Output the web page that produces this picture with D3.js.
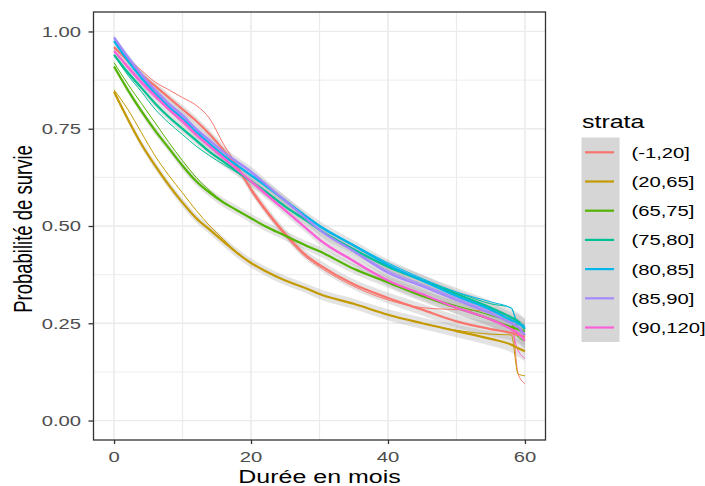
<!DOCTYPE html>
<html>
<head>
<meta charset="utf-8">
<script src="https://cdn.jsdelivr.net/npm/d3@7"></script>
<style>
body { margin: 0; background: #fff; }
text { font-family: "Liberation Sans", Arial, sans-serif; }
</style>
</head>
<body>
<div id="chart"></div>
<script>
// survival curves by strata
var times = [0, 2, 4, 6, 8, 10, 12, 14, 16, 18, 20, 22, 25, 28, 30, 35, 40, 45, 50, 55, 58, 59, 60];
var strata = ['(-1,20]', '(20,65]', '(65,75]', '(75,80]', '(80,85]', '(85,90]', '(90,120]'];
var colors = ['#F8766D', '#C49A00', '#53B400', '#00C094', '#00B6EB', '#A58AFF', '#FB61D7'];

// thick curves
var survMain = [
    [0.96, 0.925, 0.89, 0.86, 0.83, 0.80, 0.77, 0.735, 0.695, 0.65, 0.595, 0.545, 0.48, 0.425, 0.40, 0.35, 0.315, 0.285, 0.255, 0.235, 0.225, 0.22, 0.215],
    [0.845, 0.775, 0.71, 0.655, 0.605, 0.56, 0.52, 0.49, 0.46, 0.43, 0.405, 0.385, 0.36, 0.34, 0.325, 0.30, 0.272, 0.25, 0.23, 0.21, 0.195, 0.186, 0.178],
    [0.91, 0.85, 0.795, 0.745, 0.70, 0.655, 0.615, 0.585, 0.56, 0.54, 0.52, 0.50, 0.475, 0.45, 0.435, 0.39, 0.355, 0.32, 0.29, 0.26, 0.24, 0.235, 0.228],
    [0.94, 0.895, 0.855, 0.815, 0.78, 0.75, 0.72, 0.69, 0.665, 0.64, 0.615, 0.59, 0.55, 0.515, 0.49, 0.44, 0.395, 0.36, 0.325, 0.29, 0.265, 0.255, 0.235],
    [0.975, 0.925, 0.88, 0.84, 0.805, 0.775, 0.74, 0.71, 0.68, 0.655, 0.63, 0.605, 0.565, 0.525, 0.50, 0.45, 0.40, 0.36, 0.32, 0.285, 0.258, 0.25, 0.238],
    [0.985, 0.935, 0.89, 0.85, 0.815, 0.785, 0.75, 0.72, 0.69, 0.665, 0.64, 0.61, 0.565, 0.52, 0.49, 0.435, 0.38, 0.345, 0.31, 0.275, 0.25, 0.24, 0.22],
    [0.95, 0.91, 0.87, 0.835, 0.80, 0.77, 0.735, 0.705, 0.675, 0.645, 0.615, 0.585, 0.54, 0.495, 0.465, 0.41, 0.36, 0.325, 0.29, 0.26, 0.235, 0.225, 0.205]
];
// thin curves
var survAlt = [
    [0.955, 0.93, 0.90, 0.87, 0.85, 0.83, 0.81, 0.775, 0.71, 0.655, 0.59, 0.54, 0.475, 0.42, 0.395, 0.345, 0.31, 0.29, 0.285, 0.28, 0.265, 0.12, 0.095],
    [0.85, 0.80, 0.74, 0.68, 0.63, 0.585, 0.54, 0.50, 0.465, 0.432, 0.405, 0.385, 0.36, 0.34, 0.325, 0.30, 0.272, 0.25, 0.232, 0.222, 0.22, 0.12, 0.115],
    [0.92, 0.865, 0.815, 0.765, 0.715, 0.668, 0.625, 0.59, 0.562, 0.54, 0.52, 0.50, 0.475, 0.45, 0.435, 0.39, 0.355, 0.322, 0.295, 0.27, 0.25, 0.215, 0.205],
    [0.94, 0.888, 0.845, 0.80, 0.765, 0.735, 0.705, 0.68, 0.658, 0.637, 0.613, 0.588, 0.55, 0.515, 0.49, 0.44, 0.397, 0.362, 0.33, 0.30, 0.29, 0.24, 0.228],
    [0.975, 0.93, 0.885, 0.845, 0.81, 0.778, 0.745, 0.713, 0.683, 0.657, 0.632, 0.607, 0.567, 0.527, 0.502, 0.452, 0.405, 0.365, 0.33, 0.305, 0.288, 0.25, 0.245],
    [0.98, 0.93, 0.885, 0.845, 0.81, 0.78, 0.747, 0.717, 0.688, 0.662, 0.637, 0.607, 0.562, 0.518, 0.49, 0.437, 0.385, 0.35, 0.315, 0.28, 0.255, 0.235, 0.215],
    [0.95, 0.905, 0.865, 0.83, 0.797, 0.765, 0.732, 0.702, 0.672, 0.642, 0.612, 0.582, 0.538, 0.493, 0.463, 0.408, 0.358, 0.322, 0.288, 0.258, 0.232, 0.18, 0.16]
];
// half width of the grey confidence band at each time
var ciHalf = [0.006, 0.008, 0.009, 0.01, 0.01, 0.011, 0.011, 0.011, 0.012, 0.012, 0.012, 0.012, 0.012, 0.012, 0.013, 0.013, 0.014, 0.015, 0.016, 0.018, 0.02, 0.022, 0.025];

var xTicks = [0, 20, 40, 60];
var xMinor = [10, 30, 50];
var yTicks = [0, 0.25, 0.5, 0.75, 1];
var yMinor = [0.125, 0.375, 0.625, 0.875];

var W = 705, H = 486;
var panel = {'left': 93.5, 'right': 545.5, 'top': 12, 'bottom': 440};
// the picture is stretched sideways, text too
var stretch = 1.35;

var svg = d3.select('#chart').append('svg').attr('width', W).attr('height', H);
svg.append('rect').attr('width', W).attr('height', H).attr('fill', '#fff');

var x = d3.scaleLinear().domain([-3, 63]).range([panel.left, panel.right]);
var y = d3.scaleLinear().domain([-0.05, 1.05]).range([panel.bottom, panel.top]);

var grid = svg.append('g');
grid.selectAll('.vmin').data(xMinor).enter().append('line')
    .attr('x1', x).attr('x2', x).attr('y1', panel.top).attr('y2', panel.bottom)
    .attr('stroke', '#ebebeb').attr('stroke-width', 1.2);
grid.selectAll('.hmin').data(yMinor).enter().append('line')
    .attr('y1', y).attr('y2', y).attr('x1', panel.left).attr('x2', panel.right)
    .attr('stroke', '#ebebeb').attr('stroke-width', 0.9);
grid.selectAll('.vmaj').data(xTicks).enter().append('line')
    .attr('x1', x).attr('x2', x).attr('y1', panel.top).attr('y2', panel.bottom)
    .attr('stroke', '#ebebeb').attr('stroke-width', 1.6);
grid.selectAll('.hmaj').data(yTicks).enter().append('line')
    .attr('y1', y).attr('y2', y).attr('x1', panel.left).attr('x2', panel.right)
    .attr('stroke', '#ebebeb').attr('stroke-width', 1.3);

var plot = svg.append('g');
var band = d3.area()
    .x(function (d, i) { return x(times[i]); })
    .y0(function (d, i) { return y(d - ciHalf[i]); })
    .y1(function (d, i) { return y(d + ciHalf[i]); })
    .curve(d3.curveMonotoneX);
var line = d3.line()
    .x(function (d, i) { return x(times[i]); })
    .y(function (d) { return y(d); })
    .curve(d3.curveMonotoneX);

plot.selectAll('.band').data(survMain).enter().append('path')
    .attr('d', band).attr('fill', '#b0b0b0').attr('fill-opacity', 0.35);
plot.selectAll('.thin').data(survAlt).enter().append('path')
    .attr('d', line).attr('fill', 'none')
    .attr('stroke', function (d, i) { return colors[i]; })
    .attr('stroke-width', 1);
plot.selectAll('.thick').data(survMain).enter().append('path')
    .attr('d', line).attr('fill', 'none')
    .attr('stroke', function (d, i) { return colors[i]; })
    .attr('stroke-width', 2.2);

// panel border
svg.append('rect')
   .attr('x', panel.left).attr('y', panel.top)
   .attr('width', panel.right - panel.left).attr('height', panel.bottom - panel.top)
   .attr('fill', 'none').attr('stroke', '#333').attr('stroke-width', 1.3);

// axes: ticks via d3, labels drawn separately for the stretch
var xAxis = svg.append('g').attr('transform', 'translate(0,' + panel.bottom + ')')
    .call(d3.axisBottom(x).tickValues(xTicks).tickSize(4).tickFormat(''));
var yAxis = svg.append('g').attr('transform', 'translate(' + panel.left + ',0)')
    .call(d3.axisLeft(y).tickValues(yTicks).tickSize(5).tickFormat(''));
[xAxis, yAxis].forEach(function (a) {
    a.select('.domain').remove();
    a.selectAll('.tick line').attr('stroke', '#333').attr('stroke-width', 1.3);
});

svg.selectAll('.xlab').data(xTicks).enter().append('text')
   .attr('transform', function (d) { return 'translate(' + x(d) + ',462) scale(' + stretch + ',1)'; })
   .attr('text-anchor', 'middle').attr('font-size', 15).attr('fill', '#4d4d4d')
   .text(function (d) { return d; });
svg.selectAll('.ylab').data(yTicks).enter().append('text')
   .attr('transform', function (d) { return 'translate(81,' + y(d) + ') scale(' + stretch + ',1)'; })
   .attr('text-anchor', 'end').attr('dy', '0.36em').attr('font-size', 15).attr('fill', '#4d4d4d')
   .text(function (d) { return d3.format('.2f')(d); });

svg.append('text')
   .attr('transform', 'translate(' + (panel.left + panel.right) / 2 + ',483) scale(' + stretch + ',1)')
   .attr('text-anchor', 'middle').attr('font-size', 18.5).attr('fill', '#000')
   .text('Durée en mois');
svg.append('text')
   .attr('transform', 'translate(32,229) scale(' + stretch + ',1) rotate(-90)')
   .attr('text-anchor', 'middle').attr('font-size', 18.5).attr('fill', '#000')
   .text('Probabilité de survie');

// legend
var legend = svg.append('g');
legend.append('text')
      .attr('transform', 'translate(582,128) scale(' + stretch + ',1)')
      .attr('font-size', 18.5).attr('fill', '#000').text('strata');
legend.append('rect')
      .attr('x', 581.5).attr('y', 137.5).attr('width', 38).attr('height', 204.5)
      .attr('fill', '#d6d6d6');
var keyStep = 29.2;
legend.selectAll('.key').data(strata).enter().append('line')
      .attr('x1', 585).attr('x2', 614)
      .attr('y1', function (d, i) { return 152.3 + i * keyStep; })
      .attr('y2', function (d, i) { return 152.3 + i * keyStep; })
      .attr('stroke', function (d, i) { return colors[i]; })
      .attr('stroke-width', 2.2);
legend.selectAll('.lab').data(strata).enter().append('text')
      .attr('transform', function (d, i) { return 'translate(631.5,' + (152.3 + i * keyStep) + ') scale(' + stretch + ',1)'; })
      .attr('dy', '0.36em').attr('font-size', 15).attr('fill', '#000')
      .text(function (d) { return d; });
</script>
</body>
</html>
